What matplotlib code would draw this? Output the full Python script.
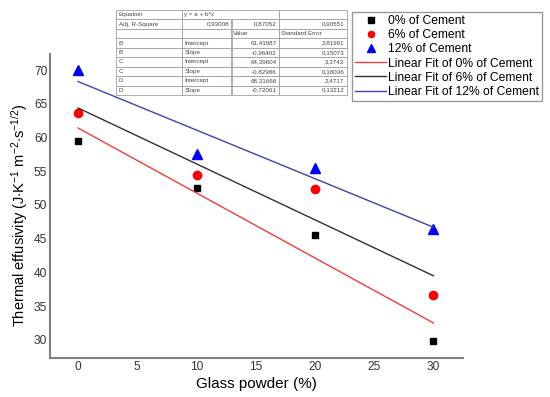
import matplotlib.pyplot as plt
import numpy as np

plt.rcParams['font.family'] = ['Liberation Sans', 'DejaVu Sans']
plt.rcParams['mathtext.fontset'] = 'custom'
plt.rcParams['mathtext.rm'] = 'Liberation Sans'
plt.rcParams['mathtext.it'] = 'Liberation Sans:italic'

glass = [0, 10, 20, 30]
cem0 = [59.5, 52.5, 45.5, 29.8]
cem6 = [63.7, 54.5, 52.3, 36.7]
cem12 = [70.0, 57.5, 55.5, 46.5]

# fit parameters as printed in the table
fit_a = [61.41987, 64.39604, 68.31666]
fit_b = [-0.96402, -0.82986, -0.72061]
fit_se_a = [2.81991, 3.3743, 2.4717]
fit_se_b = [0.15073, 0.18036, 0.13212]
adj_r2 = [0.93008, 0.87052, 0.90551]
fit_names = ['B', 'C', 'D']


def fmt(v):
    return f'{v:.5f}'.rstrip('0').replace('.', ',')


fig = plt.figure(figsize=(5.5, 3.97), dpi=100)
ax = fig.add_axes([50/550, 1-358/397, 413/550, 304/397])

ax.plot(glass, cem0, 's', color='black', ms=5, label='0% of Cement')
ax.plot(glass, cem6, 'o', color='red', ms=6, label='6% of Cement')
ax.plot(glass, cem12, '^', color='blue', ms=7, label='12% of Cement')

xf = np.array([0, 30])
line_cols = ['#f03c3c', '#303030', '#4040b0']
line_labs = ['Linear Fit of 0% of Cement', 'Linear Fit of 6% of Cement',
             'Linear Fit of 12% of Cement']
for a, b, c, l in zip(fit_a, fit_b, line_cols, line_labs):
    ax.plot(xf, a + b*xf, '-', color=c, lw=1, label=l)

ax.set_xlim(-2.37, 32.5)
ax.set_ylim(27.3, 72.4)
ax.set_xticks(range(0, 31, 5))
ax.set_yticks(range(30, 71, 5))
for s in ['top', 'right']:
    ax.spines[s].set_visible(False)
for s in ['left', 'bottom']:
    ax.spines[s].set_color('#808080')
    ax.spines[s].set_linewidth(1.5)
ax.tick_params(length=0, labelsize=8.6, labelcolor='#333333', pad=2)
ax.set_xlabel('Glass powder (%)', fontsize=11, labelpad=3)
ax.set_ylabel('Thermal effusivity (J$\\cdot$K$^{-1}$ m$^{-2}$$\\cdot$s$^{-1/2}$)',
              fontsize=10.5, labelpad=2)
ax.yaxis.set_label_coords(-0.048, 0.47)

leg = fig.legend(loc='upper left', bbox_to_anchor=(352/550, 1-12/397),
                 fontsize=8.7, frameon=True, fancybox=False, borderpad=0.25,
                 labelspacing=0.18, handlelength=2.6, handletextpad=0.15,
                 borderaxespad=0, markerscale=0.75)
leg.get_frame().set_edgecolor('#808080')
leg.get_frame().set_linewidth(1)

# fit table
tax = fig.add_axes([116/550, 1-95/397, 231/550, 85/397])
tax.axis('off')
rows = [['Equation', 'y = a + b*x', '', ''],
        ['Adj. R-Square'] + [fmt(v) for v in adj_r2],
        ['', '', 'Value', 'Standard Error']]
for n, a, b, sa, sb in zip(fit_names, fit_a, fit_b, fit_se_a, fit_se_b):
    rows.append([n, 'Intercept', fmt(a), fmt(sa)])
    rows.append([n, 'Slope', fmt(b), fmt(sb)])
tab = tax.table(cellText=rows, bbox=[0, 0, 1, 1],
                colWidths=[66, 49, 47, 68], cellLoc='right')
tab.auto_set_font_size(False)
for (r, c), cell in tab.get_celld().items():
    cell.set_edgecolor('#a0a0a0')
    cell.set_linewidth(0.6)
    cell.get_text().set_fontsize(4.5)
    cell.get_text().set_color('#444444')
    cell.PAD = 0.04
    if c == 0 or (c == 1 and r != 1) or r == 2:
        cell._loc = 'left'
        cell.get_text().set_ha('left')
    if r == 0 and c == 1:
        cell.visible_edges = 'BTL'
    if r == 0 and c == 2:
        cell.visible_edges = 'BTR'

fig.savefig('out.png', dpi=100)
